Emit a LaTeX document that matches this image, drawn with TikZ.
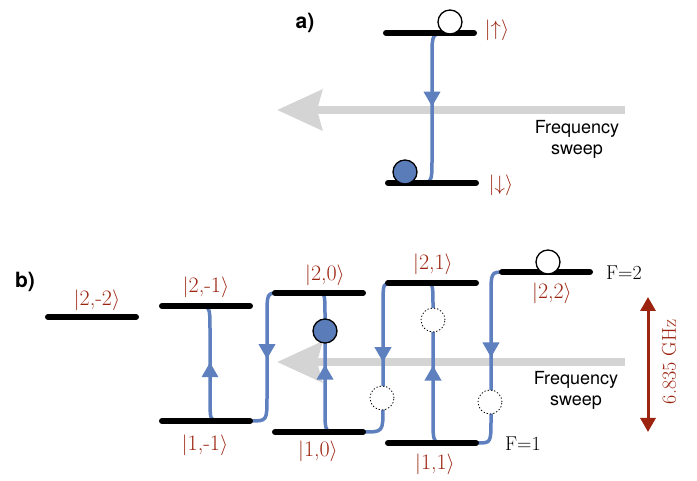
\documentclass[tikz,border=0pt]{standalone}
\usepackage{fontspec}
\newfontfamily\sweepfont{TeX Gyre Heros}
\usetikzlibrary{arrows.meta,calc,decorations.markings}
\definecolor{ketred}{RGB}{155,35,15}
\definecolor{curveblue}{RGB}{95,128,190}
\definecolor{ballblue}{RGB}{90,125,185}
\definecolor{sweepgray}{RGB}{212,212,212}

\begin{document}
\begin{tikzpicture}[x=1pt,y=-1pt,
  level/.style={line width=6pt,line cap=round},
  trans/.style={curveblue,line width=3.5pt,postaction={decorate},
    decoration={markings,mark=at position 0.5 with {\arrow{Triangle[length=15pt,width=16pt]}}}},
  sweep/.style={sweepgray,line width=8pt,-{Stealth[length=45pt,width=40pt,inset=5pt]}},
  gaparrow/.style={ketred,line width=3pt,{Triangle[length=14pt,width=15pt]}-{Triangle[length=14pt,width=15pt]}},
  ket/.style={text=ketred,font=\fontsize{22}{24}\selectfont,inner sep=0pt},
  sweeplbl/.style={font=\sweepfont\fontsize{18}{21}\selectfont,align=center},
  panel/.style={font=\sweepfont\bfseries\fontsize{21}{24}\selectfont},
  atom/.style={circle,draw,line width=1.3pt,minimum size=24pt,inner sep=0pt}]
\useasboundingbox (0,0) rectangle (697,481);

%% frequency sweeps (behind everything)
\coordinate (sa-tail) at (625,110);
\coordinate (sa-tip) at (277,110);
\coordinate (sb-tail) at (625,362);
\coordinate (sb-tip) at (277,362);
\draw[sweep] (sa-tail) -- (sa-tip);
\draw[sweep] (sb-tail) -- (sb-tip);

%% transitions: name / start x,y / vertical x / end x,y / +1 down, -1 up
\foreach \n/\sx/\sy/\vx/\ex/\ey/\s in {
    a/450/33/432/417/183/1,
    b1/505/272/491/477/443/1, b2/447/443/433/425/283/-1,
    b3/392/283/383/363/432/1, b4/337/432/325/318/293/-1,
    b5/279/293/267/250/421/1, b6/220/421/210/197/306/-1} {
  \coordinate (\n-s) at (\sx,\sy);
  \coordinate (\n-e) at (\ex,\ey);
  \draw[trans] (\n-s) .. controls (\vx,\sy) .. (\vx,{\sy+24*\s})
    -- (\vx,{\ey-24*\s}) .. controls (\vx,\ey) .. (\n-e);
}

%% energy levels: name/x/y
\foreach \n/\x/\y in {up/430/33,dn/432/183,m22/92/317,m21/206/306,m11/206/421,
  l20/319/293,l10/319/432,l21/432/283,l11/432/443,l22/546/272} {
  \coordinate (\n) at (\x,\y);
  \draw[level] ($(\n)+(-44,0)$) -- ($(\n)+(44,0)$);
}

%% atoms
\node[atom,fill=white] (a-top) at (450,22) {};
\node[atom,fill=ballblue] (a-ball) at (405,172) {};
\node[atom,fill=white] (b-top) at (548,262) {};
\node[atom,fill=ballblue] (b-ball) at (325,331) {};
\foreach \n/\x/\y in {g1/433/320,g2/382/398,g3/490/402}
  \node[atom,fill=white,dotted,line width=0.8pt] (\n) at (\x,\y) {};

%% splitting
\coordinate (gap-top) at (648,297);
\coordinate (gap-bot) at (648,432);
\draw[gaparrow] (gap-top) -- (gap-bot);
\node[ket,font=\fontsize{20}{24}\selectfont,rotate=90] (gap) at (669,362) {6.835 GHz};

%% labels
\node[panel] (pa) at (305,23) {a)};
\node[panel] (pb) at (25,282) {b)};
\node[sweeplbl] (fs-a) at (577,139) {Frequency\\sweep};
\node[sweeplbl] (fs-b) at (576,390) {Frequency\\sweep};
\node[ket] (k-up) at (497,30) {$|{\uparrow}\rangle$};
\node[ket] (k-dn) at (501,185) {$|{\downarrow}\rangle$};
\node[ket] (k22m) at (97,300) {$|$2,-2$\rangle$};
\node[ket] (k21m) at (206,287) {$|$2,-1$\rangle$};
\node[ket] (k11m) at (205,445) {$|$1,-1$\rangle$};
\node[ket] (k20) at (325,275) {$|$2,0$\rangle$};
\node[ket] (k10) at (318,451) {$|$1,0$\rangle$};
\node[ket] (k21) at (433,264) {$|$2,1$\rangle$};
\node[ket] (k11) at (435,464) {$|$1,1$\rangle$};
\node[ket] (k22) at (552,293) {$|$2,2$\rangle$};
\node[font=\fontsize{20}{24}\selectfont] (f2) at (624,273) {F=2};
\node[font=\fontsize{20}{24}\selectfont] (f1) at (523,444) {F=1};
\end{tikzpicture}
\end{document}
